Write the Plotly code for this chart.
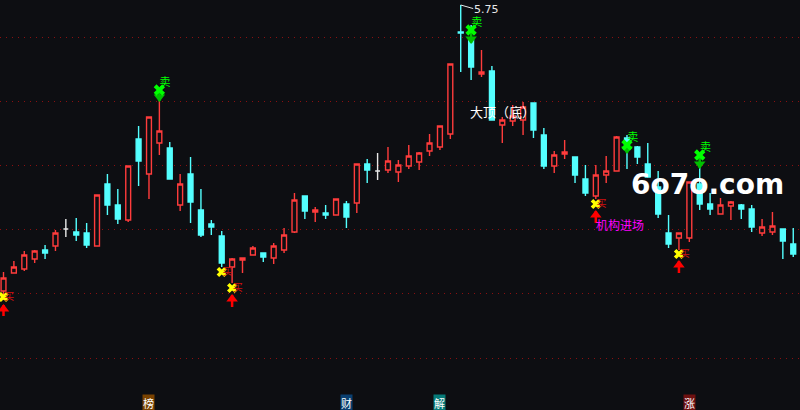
import plotly.graph_objects as go

opens = [2.89,3.07,3.11,3.21,3.30,3.34,3.51,3.48,3.47,3.34,3.96,3.75,3.60,4.41,4.06,4.37,4.32,3.75,4.06,3.70,3.56,3.44,3.13,3.20,3.25,3.27,3.22,3.30,3.48,3.84,3.68,3.67,3.65,3.76,3.77,4.16,4.09,4.10,4.08,4.14,4.18,4.29,4.33,4.46,5.48,5.40,5.06,5.09,4.55,4.59,4.60,4.77,4.45,4.14,4.26,4.23,4.01,3.84,4.05,4.09,4.42,4.33,4.16,3.93,3.47,3.42,3.42,3.96,3.76,3.66,3.74,3.75,3.71,3.47,3.48,3.51,3.36]
closes = [3.02,3.13,3.25,3.29,3.27,3.47,3.51,3.45,3.35,3.85,3.75,3.61,4.14,4.19,4.63,4.49,4.01,3.96,3.78,3.45,3.53,3.17,3.21,3.22,3.32,3.23,3.34,3.45,3.80,3.69,3.70,3.65,3.81,3.63,4.16,4.10,4.09,4.19,4.15,4.24,4.27,4.37,4.54,5.16,5.47,5.13,5.08,4.60,4.60,4.64,4.73,4.50,4.14,4.25,4.28,4.05,3.87,4.05,4.09,4.43,4.32,4.23,4.03,3.66,3.36,3.47,3.98,3.76,3.71,3.75,3.78,3.71,3.53,3.53,3.54,3.39,3.26]
highs = [3.08,3.19,3.29,3.30,3.35,3.50,3.61,3.62,3.57,3.85,4.06,3.91,4.14,4.54,4.63,4.82,4.38,4.06,4.23,3.91,3.60,3.49,3.22,3.22,3.34,3.27,3.37,3.52,3.87,3.84,3.73,3.75,3.81,3.79,4.16,4.21,4.27,4.33,4.20,4.35,4.28,4.46,4.54,5.16,5.75,5.55,5.30,5.14,4.63,4.75,4.78,4.77,4.52,4.29,4.40,4.23,4.15,4.15,4.24,4.44,4.45,4.34,4.37,4.09,3.65,3.47,3.98,4.13,3.87,3.82,3.79,3.76,3.75,3.61,3.68,3.51,3.52]
lows = [2.80,3.07,3.09,3.17,3.21,3.29,3.43,3.39,3.32,3.34,3.65,3.56,3.58,3.94,3.81,4.25,4.01,3.69,3.57,3.43,3.45,3.13,2.97,3.07,3.25,3.18,3.16,3.27,3.47,3.61,3.58,3.61,3.65,3.52,3.67,3.97,4.00,4.07,3.98,4.11,4.10,4.24,4.30,4.41,5.08,5.00,5.03,4.60,4.37,4.54,4.45,4.42,4.11,4.07,4.21,3.97,3.84,3.81,3.97,4.09,4.11,4.16,4.03,3.62,3.32,3.30,3.38,3.70,3.65,3.66,3.60,3.61,3.48,3.44,3.45,3.21,3.23]

buy_idx = [0, 21, 22, 57, 65]
buy_price = [2.83, 3.08, 2.92, 3.76, 3.26]
buy_arrow_idx = [0, 22, 57, 65]
buy_arrow_tip = [2.75, 2.85, 3.69, 3.19]
buy_arrow_tail = [2.64, 2.73, 3.57, 3.07]
sell_idx = [15, 45, 60, 67]
sell_price = [4.90, 5.50, 4.35, 4.25]
sell_arrow_tip = [4.79, 5.37, 4.27, 4.12]
grid_prices = [5.43, 4.79, 4.15, 3.51, 2.865, 2.22]
badge_labels = ["榜", "财", "解", "涨"]
badge_idx = [14, 33, 42, 66]
badge_colors = ["#7a4200", "#0a3f70", "#067a78", "#6e1010"]

BG = "#0d0e12"
RED = "#ff3c3c"
CYAN = "#54ffff"
CJK = "Noto Sans CJK SC"

fig = go.Figure()


def candle(keep, line, fill):
    idx = [i for i in range(len(opens)) if keep(i)]
    o = [opens[i] for i in idx]
    c = [closes[i] for i in idx]
    style = dict(line=dict(color=line, width=1.4), fillcolor=fill)
    fig.add_trace(go.Candlestick(
        x=idx, open=o, high=[highs[i] for i in idx], low=[lows[i] for i in idx], close=c,
        increasing=style, decreasing=style, whiskerwidth=0,
        hoverinfo="skip", showlegend=False))


candle(lambda i: closes[i] > opens[i], RED, BG)
candle(lambda i: closes[i] < opens[i], CYAN, CYAN)
candle(lambda i: closes[i] == opens[i], "#e8e8e8", "#e8e8e8")


def arrow(xs, tails, tips, symbol, color, head_shift):
    for i, tail, tip in zip(xs, tails, tips):
        fig.add_trace(go.Scatter(x=[i, i], y=[tail, tip], mode="lines",
                                 line=dict(color=color, width=2.5),
                                 hoverinfo="skip", showlegend=False))
    fig.add_trace(go.Scatter(x=xs, y=[t + head_shift for t in tips], mode="markers",
                             marker=dict(symbol=symbol, size=10, color=color, line=dict(width=0)),
                             hoverinfo="skip", showlegend=False))


arrow(buy_arrow_idx, buy_arrow_tail, buy_arrow_tip, "triangle-up", "#ff0000", -0.04)
arrow(sell_idx, sell_price, sell_arrow_tip, "triangle-down", "#00c000", 0.04)

fig.add_trace(go.Scatter(x=buy_idx, y=buy_price, mode="markers",
                         marker=dict(symbol="x", size=9, color="#ffff00", line=dict(width=0)),
                         hoverinfo="skip", showlegend=False))
fig.add_trace(go.Scatter(x=[i + 0.55 for i in buy_idx], y=buy_price, mode="text",
                         text=["买"] * len(buy_idx), textposition="middle center",
                         textfont=dict(color="#d01010", size=10, family=CJK),
                         hoverinfo="skip", showlegend=False))
fig.add_trace(go.Scatter(x=sell_idx, y=sell_price, mode="markers",
                         marker=dict(symbol="x", size=10, color="#00ff00", line=dict(width=0)),
                         hoverinfo="skip", showlegend=False))
fig.add_trace(go.Scatter(x=[i + 0.55 for i in sell_idx], y=[p + 0.065 for p in sell_price], mode="text",
                         text=["卖"] * len(sell_idx), textposition="middle center",
                         textfont=dict(color="#00ff00", size=11, family=CJK),
                         hoverinfo="skip", showlegend=False))

fig.add_annotation(x=44, y=5.75, ax=14, ay=4, axref="pixel", ayref="pixel", text="",
                   showarrow=True, arrowhead=0, arrowcolor="#e8e8e8", arrowwidth=1)
fig.add_annotation(x=45.05, y=5.71, text="5.75", showarrow=False, xanchor="left",
                   font=dict(color="#e8e8e8", size=11, family="DejaVu Sans"))
fig.add_annotation(x=44.7, y=4.69, text="大顶（底）", showarrow=False, xanchor="left",
                   font=dict(color="#ffffff", size=13, family=CJK))
fig.add_annotation(x=56.8, y=3.56, text="机构进场", showarrow=False, xanchor="left",
                   font=dict(color="#ff00ff", size=12, family=CJK))
fig.add_annotation(x=60.2, y=3.96, text="<b>6o7o.com</b>", showarrow=False, xanchor="left",
                   font=dict(color="#ffffff", size=28, family="DejaVu Sans"))

for lab, i, col in zip(badge_labels, badge_idx, badge_colors):
    fig.add_annotation(x=i, y=1.775, text=lab, showarrow=False, bgcolor=col,
                       borderpad=0, font=dict(color="#ffffff", size=11, family=CJK))

fig.update_layout(
    width=800, height=410, margin=dict(l=0, r=0, t=0, b=0),
    paper_bgcolor=BG, plot_bgcolor=BG, showlegend=False, boxmode="overlay", boxgap=0.33,
    xaxis=dict(range=[-0.337, 76.65], visible=False, rangeslider=dict(visible=False), fixedrange=True),
    yaxis=dict(range=[1.70, 5.80], tickvals=grid_prices, showticklabels=False, ticks="",
               showgrid=True, gridcolor="#8a1010", griddash="1px,5px", gridwidth=1,
               zeroline=False, showline=False, fixedrange=True),
)
fig.write_html("out.html", config=dict(displayModeBar=False),
               post_script="document.body.style.margin='0';")
